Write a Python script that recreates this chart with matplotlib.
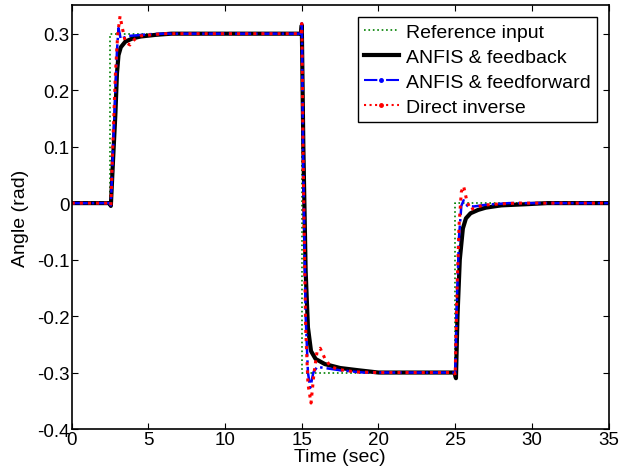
import numpy as np
import matplotlib.pyplot as plt
from matplotlib.lines import Line2D

plt.rcParams['font.family'] = ['Liberation Sans', 'DejaVu Sans']

# reference input (step profile)
t_ref = [0, 2.5, 2.5, 15, 15, 25, 25, 35]
y_ref = [0, 0, 0.3, 0.3, -0.3, -0.3, 0, 0]

# ANFIS & feedback
t_fb = [0, 2.45, 2.55, 2.7, 2.85, 2.95, 3.05, 3.2, 3.5, 4.0, 4.5, 5.5, 6.5,
        14.95, 15.0, 15.1, 15.25, 15.4, 15.6, 15.9, 16.5, 17.5, 18.7, 20.0,
        24.95, 25.05, 25.15, 25.3, 25.5, 25.7, 26.0, 26.5, 27.0, 28.0, 29.6, 31.0, 35]
y_fb = [0, 0, -0.005, 0.08, 0.16, 0.23, 0.262, 0.276, 0.286, 0.292, 0.295, 0.298, 0.3,
        0.3, 0.315, 0.1, -0.12, -0.22, -0.262, -0.276, -0.285, -0.292, -0.296, -0.3,
        -0.3, -0.31, -0.2, -0.1, -0.045, -0.027, -0.018, -0.012, -0.008, -0.004, -0.002, 0, 0]

# ANFIS & feedforward
t_ff = [0, 2.45, 2.55, 2.7, 2.85, 2.95, 3.05, 3.2, 3.4, 3.7, 4.2, 5.0, 6.0,
        14.95, 15.0, 15.1, 15.25, 15.4, 15.55, 15.75, 16.0, 16.5, 17.5, 19.0,
        24.95, 25.0, 25.1, 25.25, 25.4, 25.55, 25.8, 26.2, 27.0, 28.5, 35]
y_ff = [0, 0, -0.004, 0.1, 0.2, 0.27, 0.31, 0.29, 0.293, 0.296, 0.297, 0.299, 0.3,
        0.3, 0.322, 0.05, -0.2, -0.3, -0.327, -0.3, -0.29, -0.292, -0.296, -0.3,
        -0.3, -0.305, -0.18, -0.06, -0.005, 0.005, -0.005, -0.006, -0.003, 0, 0]

# direct inverse
t_di = [0, 2.45, 2.55, 2.7, 2.85, 3.0, 3.15, 3.3, 3.5, 3.8, 4.1, 4.5, 5.2, 6.0,
        14.95, 15.0, 15.1, 15.25, 15.4, 15.6, 15.8, 16.0, 16.2, 16.5, 16.9, 17.5, 18.5, 20.0,
        24.95, 25.0, 25.1, 25.25, 25.4, 25.55, 25.75, 26.0, 26.3, 26.8, 27.5, 29.0, 35]
y_di = [0, 0, -0.004, 0.12, 0.23, 0.3, 0.331, 0.31, 0.285, 0.28, 0.29, 0.296, 0.298, 0.3,
        0.3, 0.318, 0.05, -0.22, -0.32, -0.354, -0.3, -0.262, -0.257, -0.275, -0.29, -0.295, -0.299, -0.3,
        -0.3, -0.305, -0.17, -0.04, 0.02, 0.03, 0.005, -0.012, -0.008, -0.004, -0.002, 0, 0]

fig = plt.figure(figsize=(6.21, 4.77), dpi=100)
ax = fig.add_axes([0.1155, 0.0985, 0.8645, 0.888])

ax.plot(t_ref, y_ref, ':', color='#008000', lw=1.2)
ax.plot(t_fb, y_fb, '-', color='black', lw=3)
ax.plot(t_ff, y_ff, '-.', color='blue', lw=1.8)
ax.plot(t_di, y_di, ':', color='red', lw=2.2)

ax.set_xlim(0, 35)
ax.set_ylim(-0.4, 0.35)
ax.set_xticks(np.arange(0, 36, 5))
ax.set_yticks([-0.4, -0.3, -0.2, -0.1, 0, 0.1, 0.2, 0.3])
ax.set_yticklabels(['-0.4', '-0.3', '-0.2', '-0.1', '0', '0.1', '0.2', '0.3'])
ax.tick_params(direction='in', top=True, right=True, labelsize=13.5, length=4, pad=1.5)
for s in ax.spines.values():
    s.set_linewidth(1.2)
ax.set_xlabel('Time (sec)', fontsize=14, labelpad=0)
ax.set_ylabel('Angle (rad)', fontsize=14, labelpad=6)

handles = [
    Line2D([], [], ls=':', color='#008000', lw=1.2),
    Line2D([], [], ls='-', color='black', lw=3),
    Line2D([], [], ls='-.', color='blue', lw=1.5, marker='.', markersize=5),
    Line2D([], [], ls=':', color='red', lw=1.5, marker='.', markersize=5),
]
labels = ['Reference input', 'ANFIS & feedback', 'ANFIS & feedforward', 'Direct inverse']
leg = ax.legend(handles, labels, loc='upper right', fontsize=14, fancybox=False,
                edgecolor='black', framealpha=1, handlelength=1.8, handletextpad=0.36,
                labelspacing=0.38, borderpad=0.32, borderaxespad=0.6, numpoints=1)
leg.get_frame().set_linewidth(1.0)

plt.savefig('out.png', dpi=100)
